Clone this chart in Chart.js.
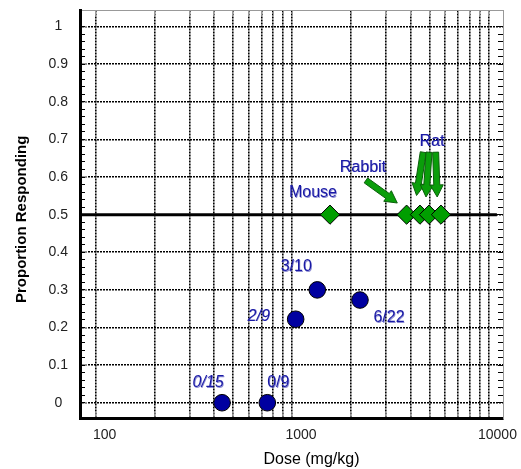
<!DOCTYPE html>
<html>
<head>
<meta charset="utf-8">
<script src="https://cdn.jsdelivr.net/npm/chart.js@4"></script>
<style>
  body { margin: 0; background: #fff; }
  canvas { display: block; }
</style>
</head>
<body>
<canvas id="dose_chart" width="521" height="469"></canvas>
<script>
// data
const respDose = [440, 748, 1043, 1344, 2217];
const respProp = [0, 0, 0.222, 0.3, 0.273];
const respLabels = ['0/15', '0/9', '2/9', '3/10', '6/22'];

const speciesDose = [1560, 3830, 4480, 4980, 5730];
const speciesProp = [0.5, 0.5, 0.5, 0.5, 0.5];

const refLineDose = [83, 11040];
const refLineProp = [0.5, 0.5];

// arrows: [startDose, startProp, tipDose, tipProp]
const rabbitArrow = [2377, 0.591, 3434, 0.531];
const ratArrows = [
    [4656, 0.666, 4305, 0.551],
    [4980, 0.666, 4808, 0.547],
    [5383, 0.666, 5483, 0.547]
];

// text notes: text, anchor dose, anchor prop
const noteTexts = ['Mouse', 'Rabbit', 'Rat'];
const noteDose = [1560, 2377, 4980];
const noteProp = [0.5, 0.591, 0.666];

// axes
const xGridTicks = [100, 200, 300, 400, 500, 600, 700, 800, 900,
    1000, 2000, 3000, 4000, 5000, 6000, 7000, 8000, 9000, 10000];
const xLabelTicks = [100, 1000, 10000];
const yTicks = [0, 0.1, 0.2, 0.3, 0.4, 0.5, 0.6, 0.7, 0.8, 0.9, 1];
const X_MIN = 83.2, X_MAX = 11860;
const Y_MIN = -0.0406, Y_MAX = 1.0425;

const yMinorTicks = [];
for (let i = 0; i <= 50; i++) yMinorTicks.push(+(i * 0.02).toFixed(2));

const FONT = "'Liberation Sans', Arial, sans-serif";
const BLUE_TEXT = '#1a1aa6';

function setTicks(list) {
    return function (scale) {
        scale.ticks = list.map(v => ({ value: v }));
    };
}

// fixed axis sizes, no extra padding for the labels
function fixSize(w, h) {
    return function (s) {
        if (w !== null) s.width = w;
        if (h !== null) s.height = h;
        s.paddingTop = 0;
        s.paddingBottom = 0;
        s.paddingLeft = 0;
        s.paddingRight = 0;
    };
}

// labels next to the points and the arrows
const annotationPlugin = {
    id: 'annotations',
    afterDatasetsDraw(chart) {
        const { ctx, scales: { x, y } } = chart;
        ctx.save();

        // arrows
        const drawArrow = (a) => {
            const x0 = x.getPixelForValue(a[0]), y0 = y.getPixelForValue(a[1]);
            const x1 = x.getPixelForValue(a[2]), y1 = y.getPixelForValue(a[3]);
            const len = Math.hypot(x1 - x0, y1 - y0);
            const ux = (x1 - x0) / len, uy = (y1 - y0) / len;
            const nx = -uy, ny = ux;
            const hw = 3, hh = 6.5, hl = 12;
            const bx = x1 - ux * hl, by = y1 - uy * hl;
            ctx.beginPath();
            ctx.moveTo(x0 + nx * hw, y0 + ny * hw);
            ctx.lineTo(bx + nx * hw, by + ny * hw);
            ctx.lineTo(bx + nx * hh, by + ny * hh);
            ctx.lineTo(x1, y1);
            ctx.lineTo(bx - nx * hh, by - ny * hh);
            ctx.lineTo(bx - nx * hw, by - ny * hw);
            ctx.lineTo(x0 - nx * hw, y0 - ny * hw);
            ctx.closePath();
            ctx.fillStyle = '#0a9e0a';
            ctx.strokeStyle = '#0b5e0b';
            ctx.lineWidth = 1;
            ctx.fill();
            ctx.stroke();
        };
        drawArrow(rabbitArrow);
        ratArrows.forEach(drawArrow);

        ctx.fillStyle = BLUE_TEXT;
        ctx.textAlign = 'center';
        ctx.textBaseline = 'middle';
        // the original text has a soft double print
        const heavyText = (t, px, py) => {
            ctx.fillText(t, px, py);
            ctx.globalAlpha = 0.5;
            ctx.fillText(t, px + 0.7, py + 0.5);
            ctx.globalAlpha = 1;
        };

        // response fractions
        const respOffsets = [[-14, -20], [11, -20], [-37, -3], [-21, -23], [29, 18]];
        const respItalic = [true, false, true, false, false];
        respLabels.forEach((t, i) => {
            ctx.font = (respItalic[i] ? 'italic ' : '') + '16px ' + FONT;
            const px = x.getPixelForValue(respDose[i]) + respOffsets[i][0];
            const py = y.getPixelForValue(respProp[i]) + respOffsets[i][1];
            heavyText(t, px, py);
        });

        // species
        const noteOffsets = [[-17, -22], [-3, -13], [3, -11]];
        ctx.font = '16px ' + FONT;
        noteTexts.forEach((t, i) => {
            const px = x.getPixelForValue(noteDose[i]) + noteOffsets[i][0];
            const py = y.getPixelForValue(noteProp[i]) + noteOffsets[i][1];
            heavyText(t, px, py);
        });

        ctx.restore();
    },
    afterDraw(chart) {
        const { ctx, chartArea } = chart;
        ctx.save();
        ctx.fillStyle = '#000';
        ctx.textAlign = 'center';
        ctx.textBaseline = 'middle';

        ctx.font = '16px ' + FONT;
        ctx.fillText('Dose (mg/kg)', (chartArea.left + chartArea.right) / 2 + 20, chartArea.bottom + 42);

        ctx.font = 'bold 15px ' + FONT;
        ctx.translate(chartArea.left - 58, (chartArea.top + chartArea.bottom) / 2 + 5);
        ctx.rotate(-Math.PI / 2);
        ctx.fillText('Proportion Responding', 0, 0);
        ctx.restore();
    }
};

new Chart(document.getElementById('dose_chart'), {
    type: 'scatter',
    data: {
        datasets: [
            {
                label: 'Response',
                data: respDose.map((d, i) => ({ x: d, y: respProp[i] })),
                pointStyle: 'circle',
                pointRadius: 8.3,
                backgroundColor: '#0000a0',
                borderColor: '#000',
                borderWidth: 1
            },
            {
                label: 'LD50',
                data: speciesDose.map((d, i) => ({ x: d, y: speciesProp[i] })),
                pointStyle: 'rectRot',
                pointRadius: 9.6,
                backgroundColor: '#009e00',
                borderColor: '#000',
                borderWidth: 1
            },
            {
                label: '50%',
                data: refLineDose.map((d, i) => ({ x: d, y: refLineProp[i] })),
                showLine: true,
                pointRadius: 0,
                borderColor: '#000',
                borderWidth: 3
            }
        ]
    },
    options: {
        responsive: false,
        animation: false,
        layout: { padding: { top: 10, right: 18, left: 0, bottom: 0 } },
        plugins: {
            legend: { display: false },
            tooltip: { enabled: false }
        },
        scales: {
            x: {
                type: 'logarithmic',
                position: 'bottom',
                min: X_MIN,
                max: X_MAX,
                weight: 1,
                afterBuildTicks: setTicks(xGridTicks),
                afterFit: fixSize(null, 51),
                grid: {
                    color: '#000',
                    lineWidth: 1.6,
                    tickLength: -6,
                    tickColor: '#999',
                    tickWidth: 1
                },
                border: { display: true, color: '#000', width: 3, dash: [2, 1] },
                ticks: {
                    autoSkip: false,
                    maxRotation: 0,
                    padding: 15,
                    labelOffset: 9,
                    color: '#222',
                    font: { family: FONT, size: 14 },
                    callback: v => xLabelTicks.includes(v) ? String(v) : ''
                }
            },
            xTop: {
                type: 'logarithmic',
                position: 'top',
                min: X_MIN,
                max: X_MAX,
                afterBuildTicks: setTicks(xGridTicks),
                afterFit: fixSize(null, 0),
                grid: { drawOnChartArea: false, tickLength: -5, tickColor: '#999' },
                border: { display: true, color: '#999', width: 1 },
                ticks: { display: false }
            },
            y: {
                type: 'linear',
                position: 'left',
                min: Y_MIN,
                max: Y_MAX,
                weight: 1,
                afterBuildTicks: setTicks(yTicks),
                afterFit: fixSize(80, null),
                grid: {
                    color: '#000',
                    lineWidth: 1.6,
                    tickLength: -7,
                    tickColor: '#999',
                    tickWidth: 1.5
                },
                border: { display: true, color: '#000', width: 3, dash: [2, 1] },
                ticks: {
                    autoSkip: false,
                    crossAlign: 'center',
                    padding: 19,
                    color: '#222',
                    font: { family: FONT, size: 14 },
                    callback: v => String(v)
                }
            },
            yMinor: {
                type: 'linear',
                position: 'left',
                min: Y_MIN,
                max: Y_MAX,
                weight: 0,
                afterBuildTicks: setTicks(yMinorTicks),
                afterFit: fixSize(0, null),
                grid: { drawOnChartArea: false, tickLength: -5, tickColor: '#000' },
                border: { display: false },
                ticks: { display: false }
            },
            yRight: {
                type: 'linear',
                position: 'right',
                min: Y_MIN,
                max: Y_MAX,
                afterBuildTicks: setTicks(yMinorTicks),
                afterFit: fixSize(0, null),
                grid: { drawOnChartArea: false, tickLength: -5, tickColor: '#000' },
                border: { display: true, color: '#999', width: 1 },
                ticks: { display: false }
            }
        }
    },
    plugins: [annotationPlugin]
});
</script>
</body>
</html>
